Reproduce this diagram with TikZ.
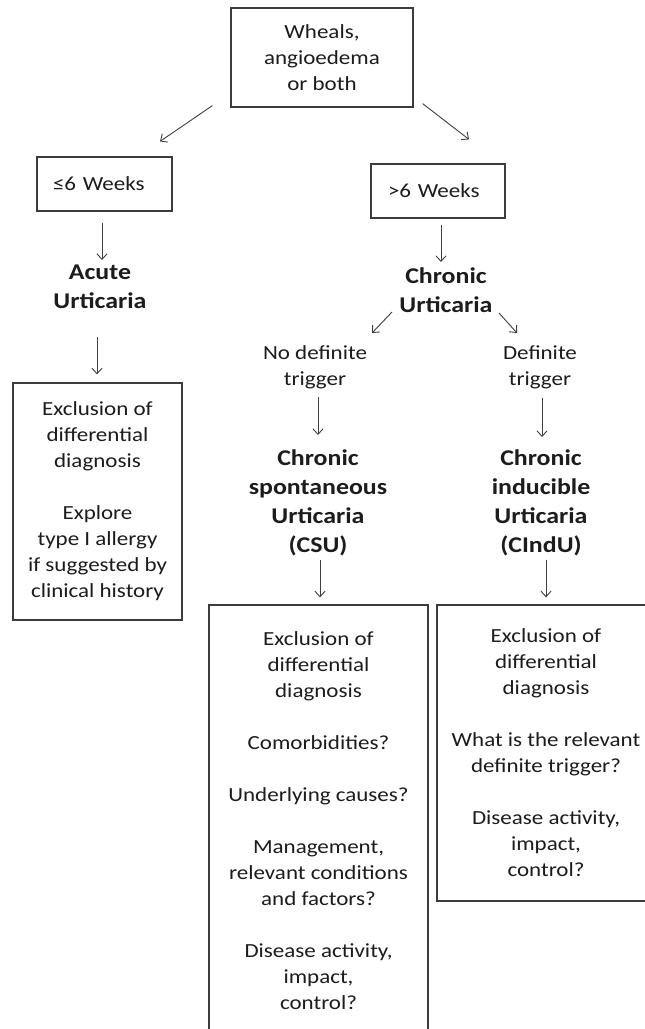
\documentclass[tikz,border=0pt]{standalone}
\usepackage{fontspec}
\setmainfont{Carlito}[FakeStretch=1.15]
\usetikzlibrary{arrows.meta,calc}
\definecolor{linec}{HTML}{3C3C3C}
\definecolor{arrc}{HTML}{404040}
\definecolor{textc}{HTML}{1C1C1C}
\tikzset{
  boxnode/.style={draw=linec, line width=1.2pt, text=textc, align=center, inner sep=0pt,
    font=\fontsize{20}{26}\selectfont},
  plain/.style={text=textc, align=center, inner sep=0pt, font=\fontsize{20}{26}\selectfont},
  boldlabel/.style={text=textc, align=center, inner sep=0pt, font=\bfseries\fontsize{22.5}{29}\selectfont},
  arr/.style={draw=arrc, line width=0.9pt, -{Straight Barb[length=5.5pt,width=10pt]}},
}
\begin{document}
\begin{tikzpicture}[x=1pt,y=-1pt]
\useasboundingbox (0,0) rectangle (645,1029);
\clip (0,0) rectangle (645,1029);
\fill[white] (0,0) rectangle (645,1029);

% boxes
\node[boxnode, minimum width=182pt, minimum height=99pt] (top) at (322,57.5)
  {Wheals,\\angioedema\\or both};
\node[boxnode, minimum width=135pt, minimum height=54pt, text width=103pt, inner xsep=16pt, align=left] (wk1) at (104.5,184)
  {≤6 Weeks};
\node[boxnode, minimum width=134pt, minimum height=54pt, text width=100pt, inner xsep=17pt, align=left] (wk2) at (438,191)
  {>6 Weeks};

% labels
\node[boldlabel] (acute) at (100,287) {Acute\\Urticaria};
\node[boldlabel] (chronic) at (446,290) {Chronic\\Urticaria};
\node[plain] (nodef) at (315,367) {No definite\\trigger};
\node[plain] (def) at (540,367) {Definite\\trigger};
\node[boldlabel] (csu) at (318,503) {Chronic\\spontaneous\\Urticaria\\(CSU)};
\node[boldlabel] (cindu) at (541,503) {Chronic\\inducible\\Urticaria\\(CIndU)};

% lower boxes
\node[boxnode, minimum width=169pt, minimum height=237pt] (acutebox) at (97.5,501.5)
  {Exclusion of\\differential\\diagnosis\\[26pt]Explore\\type I allergy\\if suggested by\\clinical history};
\node[boxnode, minimum width=219pt, minimum height=431pt] (csubox) at (318.5,820.5)
  {Exclusion of\\differential\\diagnosis\\[26pt]Comorbidities?\\[26pt]Underlying causes?\\[26pt]Management,\\relevant conditions\\and factors?\\[26pt]Disease activity,\\impact,\\control?};
\node[boxnode, minimum width=218pt, minimum height=296pt] (cindubox) at (546,753)
  {Exclusion of\\differential\\diagnosis\\[26pt]What is the relevant\\definite trigger?\\[26pt]Disease activity,\\impact,\\control?};

% connectors
\draw[arr] ($(top.south west)+(-18,-2)$) -- ($(wk1.north)+(55.5,-15)$);
\draw[arr] ($(top.south east)+(9,-4)$) -- ($(wk2.north)+(31,-24)$);
\draw[arr] ($(wk1.south)+(-2.5,11)$) -- ($(acute)+(2,-27)$);
\draw[arr] ($(wk2.south)+(3,6)$) -- ($(chronic)+(-5,-28)$);
\draw[arr] ($(acute)+(-3,50)$) -- ($(acutebox.north)+(-0.5,-8)$);
\draw[arr] ($(chronic)+(-54,22)$) -- ($(nodef)+(57,-34)$);
\draw[arr] ($(chronic)+(53,23)$) -- ($(def)+(-23,-34)$);
\draw[arr] ($(nodef)+(3,30)$) -- ($(csu)+(0,-68)$);
\draw[arr] ($(def)+(2,31)$) -- ($(cindu)+(1,-66)$);
\draw[arr] ($(csu)+(2,57)$) -- ($(csubox.north)+(1.5,-7)$);
\draw[arr] ($(cindu)+(5,57)$) -- ($(cindubox.north)+(0,-7)$);
\end{tikzpicture}
\end{document}
